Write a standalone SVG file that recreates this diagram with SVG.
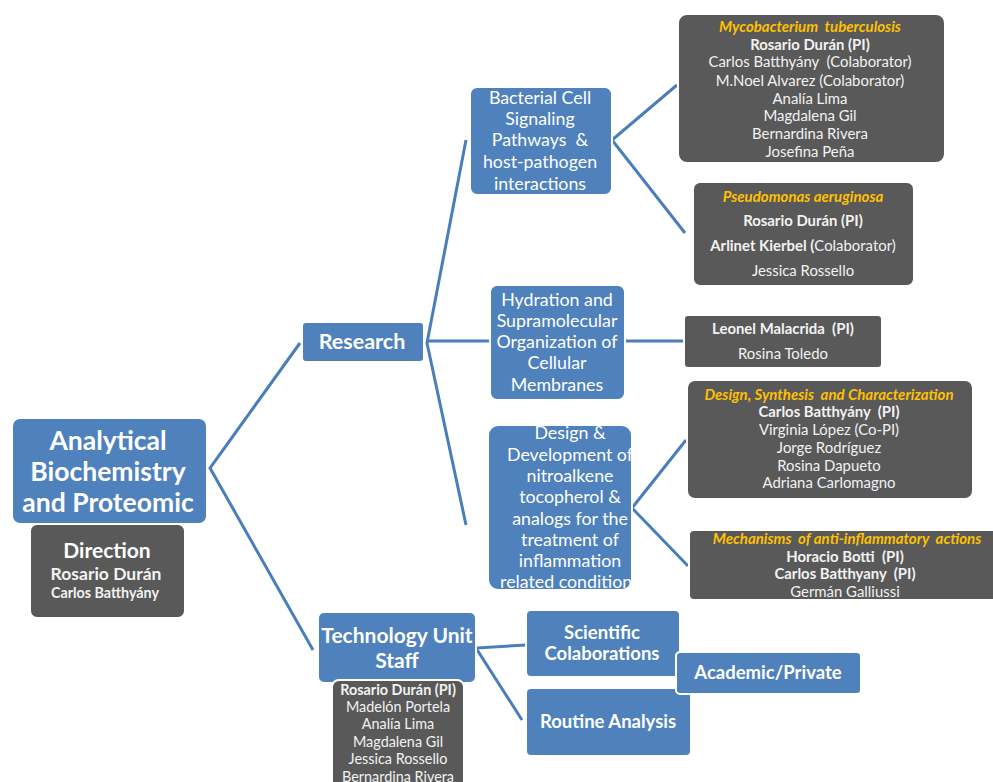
<svg xmlns="http://www.w3.org/2000/svg" width="993" height="782" viewBox="0 0 993 782">
<style>
text{font-family:Lato,"Open Sans","Liberation Sans",sans-serif;text-anchor:middle;dominant-baseline:central;white-space:pre}
.blue{fill:#4f81bd;stroke:#ffffff;stroke-width:2}
.dark{fill:#595959;stroke:#ffffff;stroke-width:2}
.w{fill:#ffffff}
.lt{fill:#f2f2f2}
.b{font-weight:bold}
.or{fill:#ffc000;font-weight:bold;font-style:italic}
.conn{stroke:#4a7ebb;stroke-width:3;fill:none}
.bt{font-size:17.8px}
.dt{font-size:14.9px}
.st{font-size:14.4px}
.bb{font-size:18.5px;font-weight:bold}
</style>
<rect width="993" height="782" fill="#ffffff"/>
<g id="connectors">
<polyline class="conn" points="300,343 210,468 313,650"/>
<polyline class="conn" points="466,140 427,343 466,525" />
<line class="conn" x1="427" y1="341" x2="490" y2="341"/>
<polyline class="conn" points="677,85 612,140 685,233"/>
<line class="conn" x1="625" y1="341" x2="684" y2="341"/>
<polyline class="conn" points="686,440 632,508 688,566"/>
<polyline class="conn" points="526,645 476,648 522,720"/>
</g>
<g id="main">
<rect class="blue" x="12" y="418" width="195" height="106" rx="8"/>
<text class="w b" x="108" y="440" font-size="26.5">Analytical</text>
<text class="w b" x="108" y="471" font-size="26.5">Biochemistry</text>
<text class="w b" x="108" y="502" font-size="26.5">and Proteomic</text>
</g>
<g id="direction">
<rect class="dark" x="30" y="524" width="155" height="94" rx="7"/>
<text class="w b" x="107" y="549" font-size="21">Direction</text>
<text class="lt b" x="106" y="573" font-size="17.5">Rosario Durán</text>
<text class="lt b" x="105" y="592" font-size="14.3">Carlos Batthyány</text>
</g>
<g id="research">
<rect class="blue" x="302" y="322" width="122" height="40" rx="4"/>
<text class="w b" x="362" y="341" font-size="21.5">Research</text>
</g>
<g id="bacterial">
<rect class="blue" x="470" y="87" width="142" height="108" rx="7"/>
<text class="w bt" x="540" y="97">Bacterial Cell</text>
<text class="w bt" x="540" y="118">Signaling</text>
<text class="w bt" x="540" y="139">Pathways  &amp;</text>
<text class="w bt" x="540" y="161">host-pathogen</text>
<text class="w bt" x="540" y="183">interactions</text>
</g>
<g id="hydration">
<rect class="blue" x="490" y="285" width="135" height="115" rx="7"/>
<text class="w bt" x="557" y="299">Hydration and</text>
<text class="w bt" x="557" y="320">Supramolecular</text>
<text class="w bt" x="557" y="341">Organization of</text>
<text class="w bt" x="557" y="362">Cellular</text>
<text class="w bt" x="557" y="384">Membranes</text>
</g>
<g id="design">
<rect class="blue" x="488" y="425" width="144" height="165" rx="10"/>
<text class="w bt" x="570" y="432">Design &amp;</text>
<text class="w bt" x="570" y="454">Development of</text>
<text class="w bt" x="570" y="475">nitroalkene</text>
<text class="w bt" x="570" y="496">tocopherol &amp;</text>
<text class="w bt" x="570" y="518">analogs for the</text>
<text class="w bt" x="570" y="539">treatment of</text>
<text class="w bt" x="570" y="560">inflammation</text>
<text class="w bt" x="570" y="581">related conditions</text>
</g>
<g id="mycobacterium">
<rect class="dark" x="678" y="14" width="267" height="149" rx="9"/>
<text class="or" x="810" y="26" font-size="15">Mycobacterium  tuberculosis</text>
<text class="lt b dt" x="810" y="44">Rosario Durán (PI)</text>
<text class="lt dt" x="810" y="61">Carlos Batthyány  (Colaborator)</text>
<text class="lt dt" x="810" y="80">M.Noel Alvarez (Colaborator)</text>
<text class="lt dt" x="810" y="98">Analía Lima</text>
<text class="lt dt" x="810" y="115">Magdalena Gil</text>
<text class="lt dt" x="810" y="133">Bernardina Rivera</text>
<text class="lt dt" x="810" y="151">Josefina Peña</text>
</g>
<g id="pseudomonas">
<rect class="dark" x="693" y="182" width="221" height="104" rx="7"/>
<text class="or" x="803" y="196" font-size="15">Pseudomonas aeruginosa</text>
<text class="lt b dt" x="803" y="220">Rosario Durán (PI)</text>
<text class="lt dt" x="803" y="245"><tspan font-weight="bold">Arlinet Kierbel (</tspan>Colaborator)</text>
<text class="lt dt" x="803" y="270">Jessica Rossello</text>
</g>
<g id="leonel">
<rect class="dark" x="684" y="315" width="198" height="53" rx="4"/>
<text class="lt b dt" x="783" y="328">Leonel Malacrida  (PI)</text>
<text class="lt dt" x="783" y="353">Rosina Toledo</text>
</g>
<g id="synthesis">
<rect class="dark" x="687" y="380" width="286" height="119" rx="8"/>
<text class="or" x="829" y="394" font-size="15">Design, Synthesis  and Characterization</text>
<text class="lt b dt" x="829" y="411">Carlos Batthyány  (PI)</text>
<text class="lt dt" x="829" y="429">Virginia López (Co-PI)</text>
<text class="lt dt" x="829" y="447">Jorge Rodríguez</text>
<text class="lt dt" x="829" y="465">Rosina Dapueto</text>
<text class="lt dt" x="829" y="482">Adriana Carlomagno</text>
</g>
<g id="mechanisms">
<rect class="dark" x="689" y="530" width="310" height="70" rx="5"/>
<text class="or" x="847" y="538" font-size="15">Mechanisms  of anti-inflammatory  actions</text>
<text class="lt b dt" x="845" y="556">Horacio Botti  (PI)</text>
<text class="lt b dt" x="845" y="573">Carlos Batthyany  (PI)</text>
<text class="lt dt" x="845" y="591">Germán Galliussi</text>
</g>
<g id="techunit">
<rect class="blue" x="318" y="612" width="158" height="71" rx="6"/>
<text class="w b" x="397" y="634" font-size="21">Technology Unit</text>
<text class="w b" x="397" y="659" font-size="21">Staff</text>
</g>
<g id="staff">
<rect class="dark" x="332" y="680" width="132" height="110" rx="7"/>
<text class="lt b st" x="398" y="689">Rosario Durán (PI)</text>
<text class="lt st" x="398" y="706">Madelón Portela</text>
<text class="lt st" x="398" y="723">Analía Lima</text>
<text class="lt st" x="398" y="741">Magdalena Gil</text>
<text class="lt st" x="398" y="758">Jessica Rossello</text>
<text class="lt st" x="398" y="776">Bernardina Rivera</text>
</g>
<g id="scientific">
<rect class="blue" x="526" y="610" width="154" height="67" rx="5"/>
<text class="w bb" x="602" y="632">Scientific</text>
<text class="w bb" x="602" y="653">Colaborations</text>
</g>
<g id="routine">
<rect class="blue" x="526" y="688" width="165" height="68" rx="5"/>
<text class="w bb" x="608" y="721">Routine Analysis</text>
</g>
<g id="academic">
<rect class="blue" x="676" y="652" width="185" height="42" rx="4"/>
<text class="w bb" x="768" y="672">Academic/Private</text>
</g>
</svg>
